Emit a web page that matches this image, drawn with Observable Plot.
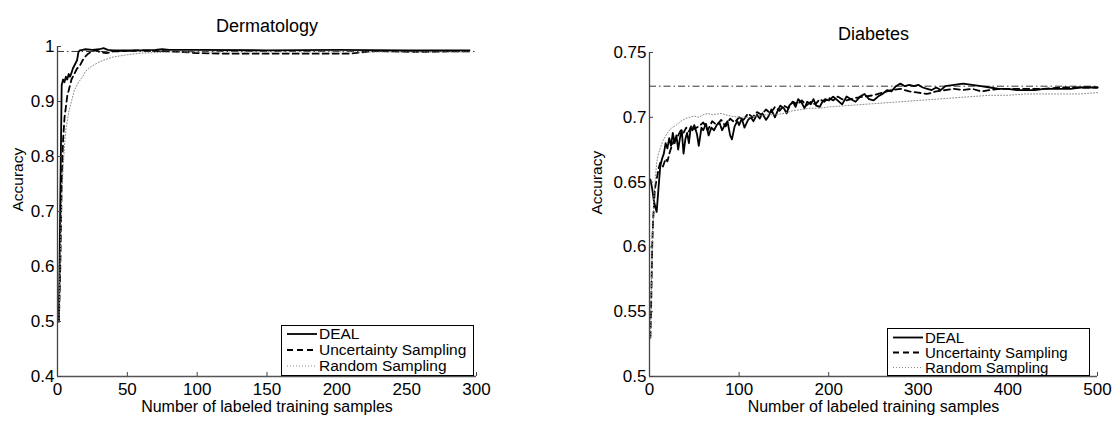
<!DOCTYPE html>
<html>
<head>
<meta charset="utf-8">
<script src="https://cdn.jsdelivr.net/npm/d3@7"></script>
<script src="https://cdn.jsdelivr.net/npm/@observablehq/plot@0.6"></script>
<style>
  html, body { margin: 0; padding: 0; background: #fff; }
  #wrap { position: relative; width: 1120px; height: 443px; font-family: "Liberation Sans", Arial, sans-serif; }
  .panel { position: absolute; top: 0; }
  .legend { position: absolute; background: #fff; border: 1.2px solid #000; box-sizing: border-box; overflow: visible; }
  .legend svg { display: block; overflow: visible; }
</style>
</head>
<body>
<div id="wrap"></div>
<script>
// ---------- Dermatology ----------
const dermTitle = "Dermatology";
const dermXTicks = [0, 50, 100, 150, 200, 250, 300];
const dermYTicks = [0.4, 0.5, 0.6, 0.7, 0.8, 0.9, 1];
const dermRef = 0.991;
const dermDealX = [1, 2, 3, 4, 5, 6, 7, 8, 9, 10, 11, 12, 13, 14, 15, 16, 18, 20, 25, 30, 33, 36, 40, 45, 50, 60, 70, 75, 80, 100, 150, 200, 250, 295];
const dermDealY = [0.50, 0.72, 0.93, 0.94, 0.935, 0.945, 0.94, 0.95, 0.945, 0.952, 0.96, 0.965, 0.97, 0.975, 0.99, 0.993, 0.994, 0.995, 0.994, 0.995, 0.997, 0.994, 0.993, 0.993, 0.993, 0.993, 0.994, 0.995, 0.994, 0.994, 0.993, 0.994, 0.993, 0.993];
const dermUncX = [1, 2, 3, 4, 5, 6, 7, 8, 9, 10, 12, 14, 16, 18, 20, 22, 25, 28, 30, 35, 40, 50, 60, 70, 80, 90, 100, 120, 140, 160, 180, 200, 210, 220, 230, 240, 260, 280, 295];
const dermUncY = [0.50, 0.60, 0.75, 0.83, 0.87, 0.89, 0.91, 0.92, 0.93, 0.94, 0.95, 0.96, 0.965, 0.975, 0.982, 0.987, 0.992, 0.993, 0.99, 0.988, 0.991, 0.992, 0.993, 0.992, 0.991, 0.990, 0.988, 0.987, 0.987, 0.987, 0.987, 0.987, 0.987, 0.990, 0.992, 0.991, 0.990, 0.991, 0.991];
const dermRndX = [1, 2, 3, 4, 5, 6, 8, 10, 12, 15, 18, 20, 25, 30, 35, 40, 50, 60, 70, 80, 100, 150, 200, 250, 295];
const dermRndY = [0.50, 0.62, 0.72, 0.78, 0.82, 0.85, 0.88, 0.90, 0.92, 0.935, 0.945, 0.955, 0.965, 0.972, 0.977, 0.981, 0.985, 0.988, 0.989, 0.990, 0.990, 0.990, 0.990, 0.990, 0.990];

// ---------- Diabetes ----------
const diabTitle = "Diabetes";
const diabXTicks = [0, 100, 200, 300, 400, 500];
const diabYTicks = [0.5, 0.55, 0.6, 0.65, 0.7, 0.75];
const diabRef = 0.724;
const diabDealX = [1, 3, 5, 8, 10, 12, 14, 16, 18, 20, 22, 24, 26, 28, 30, 32, 34, 36, 38, 40, 42, 44, 46, 48, 50, 53, 55, 58, 60, 63, 66, 69, 72, 75, 78, 81, 84, 87, 90, 92, 95, 98, 100, 103, 106, 110, 113, 116, 120, 123, 126, 130, 133, 136, 140, 143, 146, 150, 153, 156, 160, 163, 166, 170, 173, 176, 180, 183, 186, 190, 193, 196, 200, 205, 210, 215, 220, 225, 230, 235, 240, 245, 250, 255, 260, 265, 270, 275, 280, 285, 290, 295, 300, 305, 310, 315, 320, 325, 330, 340, 350, 360, 370, 380, 390, 400, 410, 420, 430, 440, 450, 460, 470, 480, 490, 500];
const diabDealY = [0.652, 0.645, 0.635, 0.627, 0.645, 0.662, 0.668, 0.672, 0.680, 0.676, 0.684, 0.678, 0.688, 0.680, 0.686, 0.675, 0.684, 0.690, 0.672, 0.683, 0.688, 0.680, 0.692, 0.690, 0.694, 0.687, 0.678, 0.692, 0.690, 0.695, 0.686, 0.692, 0.690, 0.694, 0.696, 0.690, 0.694, 0.697, 0.686, 0.683, 0.693, 0.697, 0.694, 0.699, 0.692, 0.698, 0.700, 0.697, 0.702, 0.699, 0.703, 0.698, 0.701, 0.706, 0.700, 0.705, 0.709, 0.707, 0.703, 0.709, 0.712, 0.708, 0.714, 0.711, 0.707, 0.712, 0.710, 0.714, 0.709, 0.708, 0.712, 0.714, 0.713, 0.716, 0.713, 0.710, 0.716, 0.714, 0.712, 0.716, 0.718, 0.714, 0.713, 0.716, 0.718, 0.721, 0.720, 0.724, 0.726, 0.724, 0.725, 0.724, 0.725, 0.723, 0.722, 0.721, 0.723, 0.721, 0.724, 0.725, 0.726, 0.725, 0.724, 0.723, 0.722, 0.722, 0.721, 0.721, 0.721, 0.722, 0.722, 0.722, 0.722, 0.723, 0.723, 0.723];
const diabUncX = [1, 2, 3, 4, 6, 8, 10, 12, 15, 18, 20, 23, 26, 29, 32, 35, 38, 41, 44, 47, 50, 55, 60, 65, 70, 75, 80, 85, 90, 95, 100, 105, 110, 115, 120, 125, 130, 135, 140, 145, 150, 155, 160, 165, 170, 175, 180, 185, 190, 195, 200, 205, 210, 215, 220, 230, 240, 250, 260, 270, 280, 290, 300, 310, 320, 330, 340, 350, 360, 370, 380, 390, 400, 420, 440, 460, 480, 500];
const diabUncY = [0.530, 0.560, 0.600, 0.620, 0.645, 0.652, 0.660, 0.665, 0.662, 0.668, 0.666, 0.674, 0.680, 0.684, 0.686, 0.690, 0.688, 0.692, 0.689, 0.694, 0.691, 0.693, 0.696, 0.690, 0.697, 0.694, 0.698, 0.693, 0.699, 0.696, 0.700, 0.698, 0.703, 0.700, 0.704, 0.702, 0.706, 0.703, 0.708, 0.705, 0.709, 0.707, 0.712, 0.710, 0.713, 0.709, 0.712, 0.710, 0.714, 0.712, 0.715, 0.713, 0.716, 0.714, 0.713, 0.715, 0.716, 0.717, 0.719, 0.721, 0.722, 0.720, 0.719, 0.718, 0.720, 0.721, 0.722, 0.721, 0.722, 0.720, 0.721, 0.722, 0.722, 0.722, 0.722, 0.723, 0.723, 0.723];
const diabRndX = [1, 3, 5, 8, 10, 15, 20, 25, 30, 35, 40, 45, 50, 55, 60, 65, 70, 80, 90, 100, 110, 120, 130, 140, 150, 160, 170, 180, 190, 200, 220, 240, 260, 280, 300, 320, 340, 360, 380, 400, 420, 440, 460, 480, 500];
const diabRndY = [0.530, 0.600, 0.640, 0.665, 0.672, 0.682, 0.688, 0.692, 0.694, 0.697, 0.699, 0.700, 0.701, 0.700, 0.702, 0.703, 0.702, 0.703, 0.701, 0.700, 0.700, 0.701, 0.702, 0.702, 0.703, 0.705, 0.706, 0.707, 0.707, 0.708, 0.709, 0.710, 0.711, 0.712, 0.713, 0.714, 0.715, 0.716, 0.717, 0.717, 0.718, 0.718, 0.718, 0.718, 0.719];

const seriesNames = ["DEAL", "Uncertainty Sampling", "Random Sampling"];
const styles = {
  "DEAL": {stroke: "#000", strokeWidth: 1.8, dash: null},
  "Uncertainty Sampling": {stroke: "#000", strokeWidth: 1.8, dash: "6,4"},
  "Random Sampling": {stroke: "#8a8a8a", strokeWidth: 1, dash: "1,2"}
};

const zip = (xs, ys) => xs.map((x, i) => ({x, y: ys[i]}));
const fmt = d => String(+d.toFixed(2));

function panel({title, xTicks, yTicks, ref, series, margins, width, titleDy, ylabX}) {
  const xDom = [xTicks[0], xTicks[xTicks.length - 1]];
  const yDom = [yTicks[0], yTicks[yTicks.length - 1]];
  const lineMarks = seriesNames.map((name, i) => {
    const s = styles[name];
    return Plot.line(series[i], {x: "x", y: "y", stroke: s.stroke, strokeWidth: s.strokeWidth, strokeDasharray: s.dash, curve: "linear"});
  });
  return Plot.plot({
    width, height: 443,
    marginLeft: margins[0], marginRight: margins[1], marginTop: margins[2], marginBottom: margins[3],
    style: {fontFamily: "'Liberation Sans', Arial, sans-serif", fontSize: "16px", color: "#000", background: "#fff"},
    x: {domain: xDom},
    y: {domain: yDom},
    marks: [
      Plot.ruleY([ref], {stroke: "#000", strokeWidth: 0.8, strokeDasharray: "7,3,1.5,3"}),
      ...lineMarks,
      Plot.ruleX([xDom[0]], {stroke: "#444", strokeWidth: 1.3}),
      Plot.ruleY([yDom[0]], {stroke: "#555", strokeWidth: 1.3}),
      Plot.axisX({ticks: xTicks, tickSize: -4, tickPadding: 10, tickFormat: fmt, label: null, stroke: "#444", fontSize: 17}),
      Plot.axisY({ticks: yTicks, tickSize: -4, tickPadding: 7, tickFormat: fmt, label: null, stroke: "#444", fontSize: 17}),
      Plot.text([title], {frameAnchor: "top", dy: titleDy, fontSize: 18, fill: "#000"}),
      Plot.text(["Number of labeled training samples"], {frameAnchor: "bottom", dy: 35, fontSize: 16, fill: "#000"}),
      Plot.text(["Accuracy"], {frameAnchor: "left", dx: -margins[0] + ylabX, rotate: -90, fontSize: 15.5, fill: "#000"})
    ]
  });
}

function legend(left, top, w, h, rows, fontSize) {
  const div = document.createElement("div");
  div.className = "legend";
  Object.assign(div.style, {left: left + "px", top: top + "px", width: w + "px", height: h + "px"});
  const ns = "http://www.w3.org/2000/svg";
  const svg = document.createElementNS(ns, "svg");
  svg.setAttribute("width", w - 3); svg.setAttribute("height", h - 3);
  seriesNames.forEach((name, i) => {
    const y = rows[i];
    const s = styles[name];
    const l = document.createElementNS(ns, "line");
    l.setAttribute("x1", 5); l.setAttribute("x2", 35); l.setAttribute("y1", y); l.setAttribute("y2", y);
    l.setAttribute("stroke", s.stroke); l.setAttribute("stroke-width", s.strokeWidth);
    if (s.dash) l.setAttribute("stroke-dasharray", s.dash);
    svg.appendChild(l);
    const t = document.createElementNS(ns, "text");
    t.setAttribute("x", 37); t.setAttribute("y", y); t.setAttribute("dy", "0.35em");
    t.setAttribute("font-size", fontSize); t.setAttribute("font-family", "'Liberation Sans', Arial, sans-serif");
    t.textContent = name;
    svg.appendChild(t);
  });
  div.appendChild(svg);
  return div;
}

const wrap = document.getElementById("wrap");
const p1 = panel({title: dermTitle, xTicks: dermXTicks, yTicks: dermYTicks, ref: dermRef,
  series: [zip(dermDealX, dermDealY), zip(dermUncX, dermUncY), zip(dermRndX, dermRndY)],
  margins: [57, 84, 46, 67], width: 560, titleDy: -27, ylabX: 18});
p1.classList.add("panel"); p1.style.left = "0px";
const p2 = panel({title: diabTitle, xTicks: diabXTicks, yTicks: diabYTicks, ref: diabRef,
  series: [zip(diabDealX, diabDealY), zip(diabUncX, diabUncY), zip(diabRndX, diabRndY)],
  margins: [89, 23, 52, 67], width: 560, titleDy: -25, ylabX: 37});
p2.classList.add("panel"); p2.style.left = "560px";
wrap.appendChild(p1); wrap.appendChild(p2);
wrap.appendChild(legend(281, 325, 193, 51, [8, 24, 40], 15.5));
wrap.appendChild(legend(887, 328, 203, 48, [8.5, 23.5, 38.5], 15));
</script>
</body>
</html>
